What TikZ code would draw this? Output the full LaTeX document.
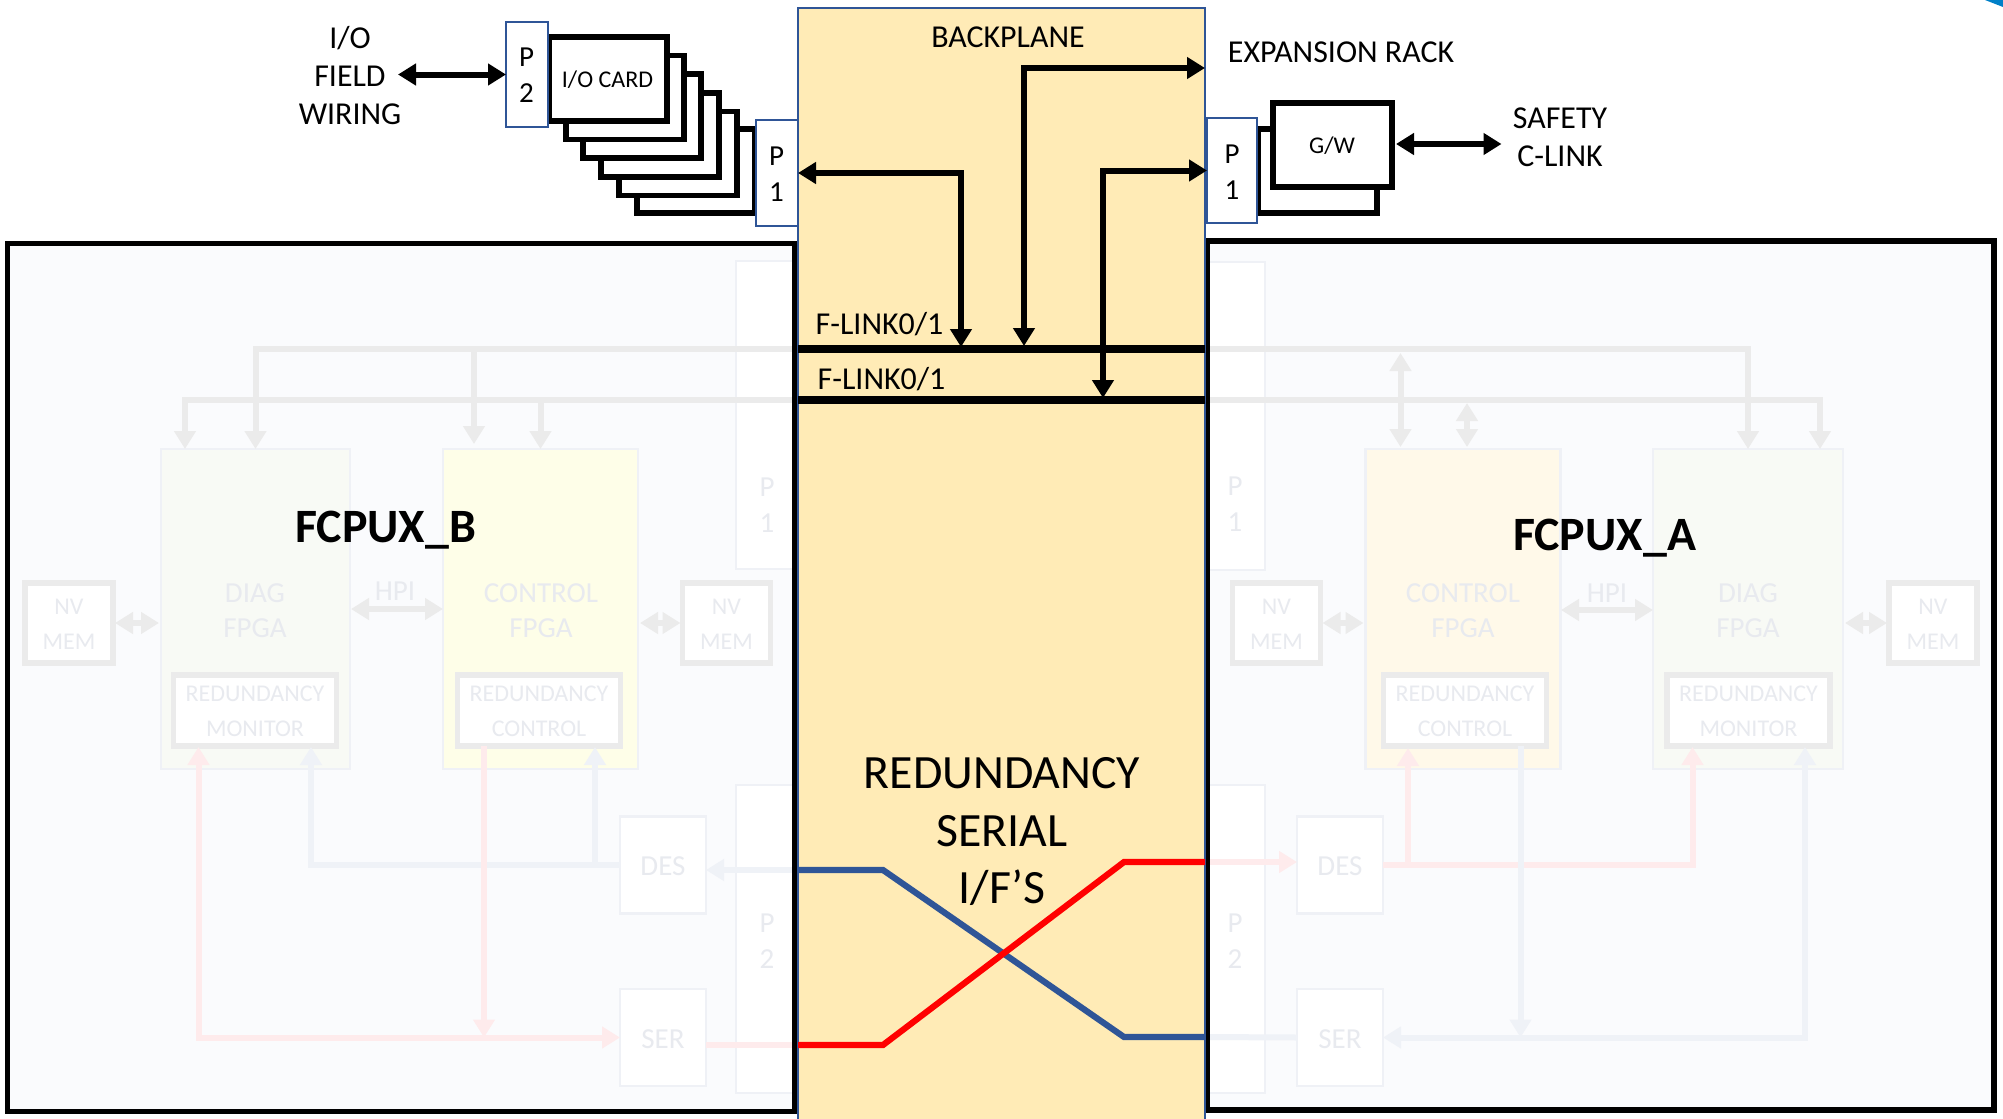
\documentclass[tikz,border=0pt]{standalone}
\usepackage{fontspec}
\setmainfont{Carlito}
\usepackage{xcolor}
\usetikzlibrary{arrows.meta,positioning,calc}
\definecolor{backfill}{HTML}{FFEBB6}
\definecolor{portblue}{HTML}{2F5597}
\definecolor{cpufill}{HTML}{FAFBFD}
\definecolor{fadeline}{HTML}{EBEBEB}
\definecolor{fadeedge}{HTML}{EFF1F6}
\definecolor{fadetext}{HTML}{E8EAEF}
\definecolor{fadered}{HTML}{FEEBEC}
\definecolor{fadeblue}{HTML}{EFF2F7}
\definecolor{diagfill}{HTML}{F8FAF5}
\definecolor{ctlbfill}{HTML}{FEFEE8}
\definecolor{ctlafill}{HTML}{FFF9E9}
\definecolor{cornerblue}{HTML}{0080C8}

\begin{document}
\begin{tikzpicture}[
    x=1pt, y=-1pt,
    every node/.style={inner sep=0pt, outer sep=0pt},
    label/.style={align=center, font=\fontsize{31.9}{38}\selectfont},
    title/.style={text depth=0pt, font=\fontsize{47.9}{54}\bfseries\selectfont},
    fadelabel/.style={align=center, text=fadetext, font=\fontsize{29}{35.5}\selectfont},
    smalllabel/.style={align=center, text=fadetext, font=\fontsize{24}{35}\selectfont},
    cardlabel/.style={font=\fontsize{24}{28}\selectfont},
    portlabel/.style={align=center, font=\fontsize{29}{36}\selectfont},
    card/.style={rectangle, draw=black, fill=white, line width=5.2pt, minimum width=118pt, minimum height=84pt},
    port/.style={rectangle, draw=portblue, fill=white, line width=2.5pt},
    fadeport/.style={rectangle, draw=fadeedge, fill=white, line width=2.5pt},
    fpga/.style={rectangle, draw=fadeedge, line width=2.5pt, minimum height=320pt},
    mem/.style={rectangle, draw=fadeline, fill=white, line width=5.5pt, minimum width=88pt, minimum height=80pt},
    redun/.style={rectangle, draw=fadeline, fill=white, line width=5.5pt, minimum width=163pt, minimum height=71pt},
    serdes/.style={rectangle, draw=fadeedge, fill=white, line width=2.5pt, minimum width=86pt, minimum height=97pt},
    cpu/.style={rectangle, fill=cpufill},
    frame/.style={draw=black, line width=5.8pt},
    arrow/.style={->, >={Triangle[length=18pt,width=21pt]}, line width=6pt, color=black},
    dblarrow/.style={arrow, <->},
    fadearrow/.style={arrow, color=fadeline, line width=6pt},
    bus/.style={line width=7.2pt, color=black},
    fadebus/.style={line width=6.8pt, color=fadeline},
    serial/.style={line width=6.2pt},
]
\useasboundingbox (0,0) rectangle (2003,1119);

\node[cpu, minimum width=787pt, minimum height=868pt] (fcpub) at (401,677.5) {};
\node[cpu, minimum width=786.5pt, minimum height=869pt] (fcpua) at (1600.75,675.5) {};

\coordinate (bus1left) at (798,349);
\coordinate (bus1right) at (1205,349);
\coordinate (bus2left) at (798,400);
\coordinate (bus2right) at (1205,400);
\coordinate (rxb) at (798,870);
\coordinate (txb) at (798,1045);
\coordinate (rxa) at (1205,862);
\coordinate (txa) at (1205,1037);

\node[fadeport, minimum width=60pt, minimum height=308pt] (p1b) at (766,415) {};
\node[fadeport, minimum width=60pt, minimum height=308pt] (p2b) at (766,939) {};
\node[fadeport, minimum width=60pt, minimum height=308pt] (p1a) at (1235,416) {};
\node[fadeport, minimum width=60pt, minimum height=308pt] (p2a) at (1235,939) {};
\node[fadelabel] (p1blabel) at (767,505) {P\\1};
\node[fadelabel] (p2blabel) at (767,941) {P\\2};
\node[fadelabel] (p1alabel) at (1235,504) {P\\1};
\node[fadelabel] (p2alabel) at (1235,941) {P\\2};

\node[fpga, fill=diagfill, minimum width=189pt] (diagb) at (255.5,609) {};
\node[fpga, fill=ctlbfill, minimum width=195pt] (ctlb) at (540.5,609) {};
\node[fpga, fill=ctlafill, minimum width=195pt] (ctla) at (1463,609) {};
\node[fpga, fill=diagfill, minimum width=190pt] (diaga) at (1748,609) {};
\node[fadelabel] (diagbtext) at (255,610.5) {DIAG\\FPGA};
\node[fadelabel] (ctlbtext) at (541,610.5) {CONTROL\\FPGA};
\node[fadelabel] (ctlatext) at (1463,610.5) {CONTROL\\FPGA};
\node[fadelabel] (diagatext) at (1748,610.5) {DIAG\\FPGA};

\node[mem] (memb1) at (69,623) {};
\node[mem] (memb2) at (726.5,623) {};
\node[mem] (mema1) at (1276.5,623) {};
\node[mem] (mema2) at (1933,623) {};
\node[smalllabel] (memb1text) at (69,624) {NV\\MEM};
\node[smalllabel] (memb2text) at (726.5,624) {NV\\MEM};
\node[smalllabel] (mema1text) at (1276.5,624) {NV\\MEM};
\node[smalllabel] (mema2text) at (1933,624) {NV\\MEM};

\node[redun] (monb) at (255,710.5) {};
\node[redun] (conb) at (539,710.5) {};
\node[redun] (cona) at (1465,710.5) {};
\node[redun] (mona) at (1748.5,710.5) {};
\node[smalllabel] (monbtext) at (255,711) {REDUNDANCY\\MONITOR};
\node[smalllabel] (conbtext) at (539,711) {REDUNDANCY\\CONTROL};
\node[smalllabel] (conatext) at (1465,711) {REDUNDANCY\\CONTROL};
\node[smalllabel] (monatext) at (1748.5,711) {REDUNDANCY\\MONITOR};

\node[serdes] (desb) at (663,865) {};
\node[serdes] (serb) at (663,1037.5) {};
\node[serdes] (desa) at (1340,865) {};
\node[serdes] (sera) at (1340,1037.5) {};
\node[fadelabel] (desbtext) at (663,866) {DES};
\node[fadelabel] (serbtext) at (663,1039) {SER};
\node[fadelabel] (desatext) at (1340,866) {DES};
\node[fadelabel] (seratext) at (1340,1039) {SER};

\node[fadelabel] (hpib) at (395,591) {HPI};
\node[fadelabel] (hpia) at (1607,593) {HPI};

\coordinate (diagbin) at (185,449);
\coordinate (ctlbin) at (474,444);
\coordinate (ctlain1top) at (1400.5,353);
\coordinate (ctlain1) at (1400.5,447);
\coordinate (ctlain2top) at (1467,403);
\coordinate (ctlain2) at (1467,447);
\coordinate (diagain) at (1820,449);
\coordinate (hpibline) at (351,609);
\coordinate (hpialine) at (1561,610);
\coordinate (monbred) at (198.5,747);
\coordinate (monbblue) at (311,747);
\coordinate (conbblue) at (595,747);
\coordinate (conbred) at (484,746);
\coordinate (conared) at (1408,748);
\coordinate (conablue) at (1520.5,746);
\coordinate (monared) at (1692.5,747);
\coordinate (monablue) at (1805,747);

\draw[fadebus] (bus1left) -- (bus1left -| ctlbin);
\draw[fadearrow] (bus1left) -| (diagb.north);
\draw[fadearrow] (bus2left) -| (diagbin);
\draw[fadearrow] (bus1left -| ctlbin) -- (ctlbin);
\draw[fadearrow] (bus2left -| ctlb.north) -- (ctlb.north);
\draw[fadearrow] (bus1right) -| (diaga.north);
\draw[fadearrow] (bus2right) -| (diagain);
\draw[fadearrow, <->] (ctlain1top) -- (ctlain1);
\draw[fadearrow, <->] (ctlain2top) -- (ctlain2);
\draw[fadearrow, <->] (hpibline) -- (ctlb.west |- hpibline);
\draw[fadearrow, <->] (hpialine) -- (diaga.west |- hpialine);
\draw[fadearrow, <->, shorten <=2pt, shorten >=2pt] (memb1.east) -- (diagb.west |- memb1.east);
\draw[fadearrow, <->, shorten <=2pt, shorten >=2pt] (ctlb.east |- memb2.west) -- (memb2.west);
\draw[fadearrow, <->, shorten <=2pt, shorten >=2pt] (mema1.east) -- (ctla.west |- mema1.east);
\draw[fadearrow, <->, shorten <=2pt, shorten >=2pt] (diaga.east |- mema2.west) -- (mema2.west);

\draw[fadearrow, color=fadeblue] (desb.west) -| (monbblue);
\draw[fadearrow, color=fadeblue] (desb.west) -| (conbblue);
\draw[fadearrow, color=fadeblue] (rxb) -- (desb.east |- rxb);
\draw[fadearrow, color=fadered, <->] (monbred) |- (serb.west);
\draw[fadearrow, color=fadered] (conbred) -- (conbred |- serb.west);
\draw[fadearrow, color=fadered, -] (serb.east |- txb) -- (txb);

\draw[fadearrow, color=fadered] (rxa) -- (desa.west |- rxa);
\draw[fadearrow, color=fadered] (desa.east) -| (conared);
\draw[fadearrow, color=fadered] (desa.east) -| (monared);
\draw[fadearrow, color=fadeblue] (conablue) -- (conablue |- sera.east);
\draw[fadearrow, color=fadeblue, <->] (monablue) |- (sera.east);
\draw[fadearrow, color=fadeblue, -] (sera.west) -- (txa);

\draw[frame] (fcpub.north west) rectangle (fcpub.south east);
\draw[frame] (fcpua.north west) rectangle (fcpua.south east);

\node[rectangle, draw=portblue, fill=backfill, line width=2.5pt, minimum width=407pt, minimum height=1114pt] (backplane) at (1001.5,565) {};
\node[label] (backlabel) at (1008,37) {BACKPLANE};
\node[label] (flink1) at (879.5,324) {F-LINK0/1};
\node[label] (flink2) at (881.5,379) {F-LINK0/1};
\node[label, font=\fontsize{47.8}{57.5}\selectfont] (rsif) at (1002,831.5) {REDUNDANCY\\SERIAL\\I/F’S};

\draw[bus] (bus1left) -- (bus1right);
\draw[bus] (bus2left) -- (bus2right);

\coordinate (blue1) at (883,870);
\coordinate (blue2) at (1124,1037);
\coordinate (red1) at (883,1045);
\coordinate (red2) at (1124,862);
\draw[serial, color=portblue] (rxb) -- (blue1) -- (blue2) -- (txa);
\draw[serial, color=red] (txb) -- (red1) -- (red2) -- (rxa);

\node[card] (card6) at (696,171) {};
\node[card] (card5) at (678,153.5) {};
\node[card] (card4) at (660,135) {};
\node[card] (card3) at (642,116) {};
\node[card] (card2) at (625,97.5) {};
\node[card] (card1) at (608,79) {};
\node[cardlabel] (cardtext) at (607.5,80) {I/O CARD};
\node[port, minimum width=42pt, minimum height=105pt] (p2top) at (527,74.5) {};
\node[portlabel] (p2toptext) at (526.5,75) {P\\2};
\node[port, minimum width=42pt, minimum height=106pt] (p1left) at (777,173) {};
\node[portlabel] (p1lefttext) at (776.5,174) {P\\1};
\node[card, minimum width=119pt] (gwback) at (1317.5,171) {};
\node[card, minimum width=119pt, line width=5.8pt] (gw) at (1332.5,145) {};
\node[cardlabel] (gwtext) at (1332,146) {G/W};
\node[port, minimum width=50pt, minimum height=105pt] (p1right) at (1232,170.5) {};
\node[portlabel] (p1righttext) at (1232,172) {P\\1};

\node[label] (wiring) at (350,76) {I/O\\FIELD\\WIRING};
\node[label] (expansion) at (1341,52) {EXPANSION RACK};
\node[label] (safety) at (1560,137) {SAFETY\\C-LINK};
\node[title] (fcpubname) at (385.5,527) {FCPUX\_B};
\node[title] (fcpuaname) at (1604.5,535) {FCPUX\_A};

\coordinate (linka) at (961,347);
\coordinate (linkb) at (1024,346);
\coordinate (linkc) at (1103,398);
\coordinate (rackout) at (1205,68);
\coordinate (safetyin) at (1501.5,144);
\coordinate (gwout) at (1396,144);
\coordinate (wireout) at (398,74.5);

\draw[dblarrow] (wireout) -- (p2top.west);
\draw[dblarrow] (gwout) -- (safetyin);
\draw[dblarrow] (p1left.east) -| (linka);
\draw[dblarrow] (rackout) -| (linkb);
\draw[dblarrow] (p1right.west) -| (linkc);

\fill[cornerblue] (1985,0) -- (2003,7) -- (2003,0) -- cycle;
\end{tikzpicture}
\end{document}
